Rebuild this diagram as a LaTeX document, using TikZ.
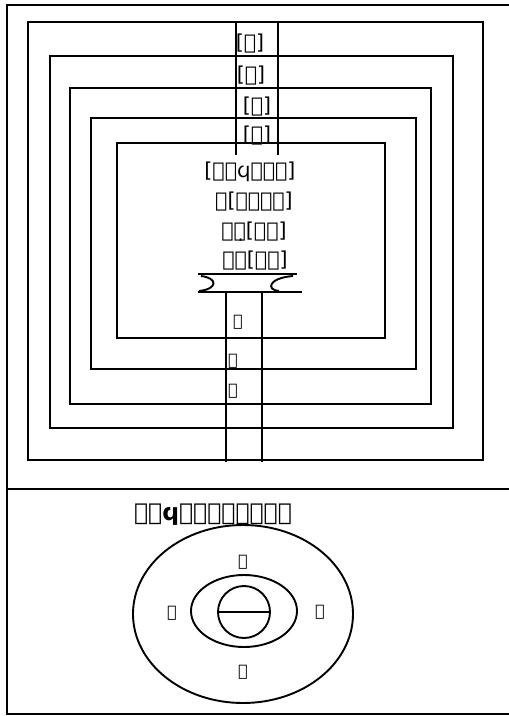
\documentclass[tikz,border=0pt]{standalone}
\usepackage{fontspec}
\newfontfamily\copt{DejaVu Sans}
\begin{document}
\begin{tikzpicture}[x=1pt,y=-1pt,
  ln/.style={line width=1.9pt},
  thk/.style={line width=2.8pt},
  lbl/.style={inner sep=0pt,font=\copt\fontsize{20.5}{22}\selectfont},
  sml/.style={inner sep=0pt,font=\copt\fontsize{16}{18}\selectfont}]
\useasboundingbox (0,0) rectangle (509,716);
% frame
\draw[ln] (515,5) -- (7,5) -- (7,714) -- (515,714);
\draw[ln] (7,489) -- (515,489);
% nested squares
\draw[ln] (28,22) rectangle (483,460);
\draw[ln] (50,56) rectangle (453,428);
\draw[ln] (70,88) rectangle (431,404);
\draw[ln] (91,118) rectangle (416,369);
\draw[ln] (117,143) rectangle (385,338);
% top vertical lines
\draw[ln] (236,22) -- (236,155);
\draw[thk] (278,22) -- (278,155);
% bottom vertical lines
\draw[ln] (226,292) -- (226,462);
\draw[thk] (262,292) -- (262,462);
% I-beam
\draw[ln] (198,274) -- (297,274);
\draw[ln] (198,292) -- (302,292);
\draw[ln] (201,276) .. controls (218,278) and (218,289) .. (199,291);
\draw[ln] (293,276) .. controls (268,278) and (266,290) .. (279,291);
% labels top
\node[lbl] (a1) at (250,44) {[ⲁ]};
\node[lbl] (a2) at (251,76) {[ⲁ]};
\node[lbl] (a3) at (257,107) {[ⲁ]};
\node[lbl] (a4) at (257,136) {[ⲁ]};
\node[lbl] (t1) at (250,172) {[ⲡⲉϥⲣⲁⲛ]};
\node[lbl] (t2) at (254,202) {ⲓ[ⲏⲱⲟⲟ]};
\node[lbl] (t3) at (254,232) {ⲩⲍ̣[ⲁⲁ]};
\node[lbl] (t4) at (255,261) {ⲓⲉ[ⲟⲩ]};
% bottom labels
\node[sml] (b1) at (238,322) {ⲁ};
\node[sml] (b2) at (233,361) {ⲁ};
\node[sml] (b3) at (233,391) {ⲁ};
% lower section
\node[lbl,font=\copt\bfseries\fontsize{23.5}{25}\selectfont] (title) at (213,515) {ⲡⲉϥⲭⲁⲣⲁⲕⲧⲏⲣ};
\draw[ln] (243,614) ellipse [x radius=110, y radius=89];
\draw[ln] (244,611) ellipse [x radius=53, y radius=36];
\draw[ln] (244,612) circle [radius=26];
\draw[thk] (218,612) -- (270,612);
\node[sml] (e1) at (243,562) {ⲁ};
\node[sml] (e2) at (172,613) {ⲁ};
\node[sml] (e3) at (320,612) {ⲁ};
\node[sml] (e4) at (243,672) {ⲁ};
\end{tikzpicture}
\end{document}
